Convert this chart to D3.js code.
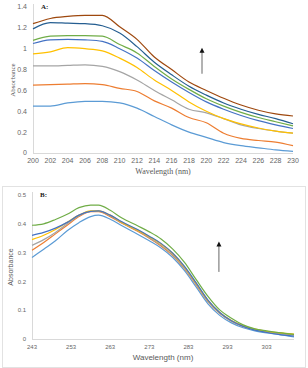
<!DOCTYPE html>
<html>
<head>
<meta charset="utf-8">
<script src="https://cdn.jsdelivr.net/npm/d3@7"></script>
<style>
  body { margin: 0; background: #fff; }
  svg { display: block; }
</style>
</head>
<body>
<svg id="chart" width="308" height="368"></svg>
<script>
// Excel default palette
var colors = ["#5B9BD5", "#ED7D31", "#A5A5A5", "#FFC000", "#4472C4", "#70AD47", "#255E91", "#9E480E"];

// panel A: wavelength 200-230 nm
var wlA = [200, 202, 204, 206, 208, 210, 212, 214, 216, 218, 220, 222, 224, 226, 228, 230];
var a1 = [0.45, 0.45, 0.48, 0.495, 0.495, 0.48, 0.43, 0.35, 0.27, 0.20, 0.15, 0.10, 0.07, 0.05, 0.03, 0.015];
var a2 = [0.65, 0.655, 0.66, 0.665, 0.655, 0.62, 0.59, 0.50, 0.43, 0.34, 0.29, 0.19, 0.14, 0.12, 0.105, 0.07];
var a3 = [0.835, 0.835, 0.84, 0.845, 0.83, 0.78, 0.70, 0.60, 0.51, 0.42, 0.385, 0.33, 0.27, 0.235, 0.21, 0.19];
var a4 = [0.95, 0.97, 1.01, 1.0, 0.98, 0.91, 0.82, 0.70, 0.60, 0.49, 0.40, 0.33, 0.28, 0.24, 0.21, 0.19];
var a5 = [1.05, 1.085, 1.09, 1.085, 1.07, 1.0, 0.91, 0.79, 0.68, 0.58, 0.49, 0.42, 0.36, 0.31, 0.27, 0.235];
var a6 = [1.08, 1.12, 1.125, 1.125, 1.12, 1.04, 0.96, 0.83, 0.71, 0.61, 0.52, 0.45, 0.39, 0.34, 0.30, 0.26];
var a7 = [1.19, 1.25, 1.245, 1.24, 1.22, 1.15, 1.02, 0.87, 0.75, 0.64, 0.555, 0.48, 0.42, 0.37, 0.33, 0.28];
var a8 = [1.24, 1.29, 1.31, 1.32, 1.32, 1.21, 1.09, 0.92, 0.80, 0.68, 0.60, 0.525, 0.46, 0.41, 0.375, 0.355];
var seriesA = [a1, a2, a3, a4, a5, a6, a7, a8];
var xTicksA = d3.range(200, 231, 2);
var yTicksA = [0, 0.2, 0.4, 0.6, 0.8, 1, 1.2, 1.4];

// panel B: wavelength 243-310 nm
var wlB = [243, 246, 249, 252, 255, 258, 260, 263, 266, 270, 273, 276, 279, 282, 285, 288, 291, 294, 297, 300, 303, 306, 310];
var b1 = [0.283, 0.312, 0.341, 0.376, 0.404, 0.425, 0.43, 0.416, 0.393, 0.364, 0.341, 0.316, 0.283, 0.237, 0.18, 0.122, 0.082, 0.056, 0.039, 0.028, 0.021, 0.016, 0.007];
var b2 = [0.308, 0.335, 0.365, 0.395, 0.425, 0.442, 0.442, 0.425, 0.402, 0.374, 0.35, 0.323, 0.29, 0.244, 0.188, 0.13, 0.089, 0.062, 0.044, 0.032, 0.025, 0.02, 0.014];
var b3 = [0.325, 0.345, 0.37, 0.40, 0.428, 0.443, 0.444, 0.428, 0.404, 0.377, 0.352, 0.326, 0.292, 0.246, 0.19, 0.131, 0.09, 0.062, 0.045, 0.033, 0.026, 0.021, 0.015];
var b4 = [0.345, 0.36, 0.38, 0.405, 0.43, 0.445, 0.445, 0.43, 0.405, 0.378, 0.355, 0.33, 0.297, 0.25, 0.193, 0.134, 0.092, 0.064, 0.046, 0.034, 0.027, 0.022, 0.017];
var b5 = [0.36, 0.37, 0.385, 0.405, 0.43, 0.443, 0.445, 0.43, 0.407, 0.38, 0.357, 0.332, 0.298, 0.252, 0.195, 0.135, 0.092, 0.063, 0.044, 0.031, 0.023, 0.016, 0.010];
var b6 = [0.395, 0.40, 0.415, 0.433, 0.456, 0.465, 0.465, 0.447, 0.42, 0.393, 0.372, 0.347, 0.312, 0.266, 0.206, 0.148, 0.101, 0.072, 0.049, 0.035, 0.028, 0.022, 0.016];
var seriesB = [b1, b2, b3, b4, b5, b6];
var xTicksB = [243, 253, 263, 273, 283, 293, 303];
var yTicksB = [0, 0.1, 0.2, 0.3, 0.4, 0.5];

var svg = d3.select("#chart");
var tickFont = "'Liberation Sans', Arial, sans-serif";
var serif = "'Liberation Serif', 'Times New Roman', serif";

// frame around panel B
svg.append("rect")
    .attr("x", 2.5).attr("y", 186.5)
    .attr("width", 303).attr("height", 181)
    .attr("fill", "none")
    .attr("stroke", "#e2e2e2");

function panel(opt) {
  var x = d3.scaleLinear().domain(opt.xdomain).range([opt.left, opt.right]);
  var y = d3.scaleLinear().domain(opt.ydomain).range([opt.bottom, opt.top]);
  var g = svg.append("g");

  // axis lines
  g.append("line")
      .attr("x1", opt.left).attr("x2", opt.right)
      .attr("y1", opt.bottom + 0.5).attr("y2", opt.bottom + 0.5)
      .attr("stroke", "#d9d9d9");
  g.append("line")
      .attr("x1", opt.left + 0.5).attr("x2", opt.left + 0.5)
      .attr("y1", opt.top - 3).attr("y2", opt.bottom)
      .attr("stroke", "#d9d9d9");

  // tick labels
  g.selectAll(".yt")
      .data(opt.yticks)
    .enter().append("text")
      .attr("x", opt.left - 6)
      .attr("y", function(d) { return y(d); })
      .attr("dy", "0.35em")
      .attr("text-anchor", "end")
      .attr("font-family", tickFont)
      .attr("font-size", opt.tickSize)
      .attr("fill", "#666")
      .text(function(d) { return d; });

  g.selectAll(".xt")
      .data(opt.xticks)
    .enter().append("text")
      .attr("x", function(d) { return x(d); })
      .attr("y", opt.bottom + 10)
      .attr("text-anchor", "middle")
      .attr("font-family", tickFont)
      .attr("font-size", opt.tickSize)
      .attr("fill", "#666")
      .text(function(d) { return d; });

  // lines
  var line = d3.line()
      .x(function(d) { return x(d[0]); })
      .y(function(d) { return y(d[1]); })
      .curve(d3.curveMonotoneX);

  opt.series.forEach(function(s, i) {
    g.append("path")
        .datum(opt.wl.map(function(w, j) { return [w, s[j]]; }))
        .attr("fill", "none")
        .attr("stroke", colors[i])
        .attr("stroke-width", 1.2)
        .attr("d", line);
  });

  // arrow
  var ax = x(opt.arrow[0]);
  g.append("line")
      .attr("x1", ax).attr("x2", ax)
      .attr("y1", y(opt.arrow[1])).attr("y2", y(opt.arrow[2]) + 3)
      .attr("stroke", "#555").attr("stroke-width", 0.9);
  g.append("path")
      .attr("d", "M" + ax + "," + (y(opt.arrow[2]) - 1) + " l-2.5,5 l5,0 z")
      .attr("fill", "#111");

  // titles
  g.append("text")
      .attr("x", (opt.left + opt.right) / 2)
      .attr("y", opt.bottom + 21)
      .attr("text-anchor", "middle")
      .attr("font-family", opt.titleFont)
      .attr("font-size", 8)
      .attr("fill", "#595959")
      .text("Wavelength (nm)");

  g.append("text")
      .attr("transform", "translate(" + opt.ylabelX + "," + ((opt.top + opt.bottom) / 2) + ") rotate(-90)")
      .attr("text-anchor", "middle")
      .attr("font-family", opt.titleFont)
      .attr("font-size", 7)
      .attr("fill", "#595959")
      .text("Absorbance");

  g.append("text")
      .attr("x", opt.left + 8)
      .attr("y", opt.top + 2)
      .attr("font-family", serif)
      .attr("font-weight", "bold")
      .attr("font-size", 7)
      .attr("fill", "#222")
      .text(opt.label);
}

panel({
  wl: wlA, series: seriesA,
  xdomain: [200, 230], ydomain: [0, 1.4],
  left: 33, right: 293, top: 7, bottom: 153,
  xticks: xTicksA, yticks: yTicksA,
  tickSize: 7, titleFont: serif, ylabelX: 15,
  arrow: [219.5, 0.76, 1.0], label: "A:"
});

panel({
  wl: wlB, series: seriesB,
  xdomain: [243, 310], ydomain: [0, 0.5],
  left: 32, right: 294, top: 195, bottom: 339,
  xticks: xTicksB, yticks: yTicksB,
  tickSize: 6, titleFont: tickFont, ylabelX: 13,
  arrow: [290.8, 0.233, 0.335], label: "B:"
});
</script>
</body>
</html>
